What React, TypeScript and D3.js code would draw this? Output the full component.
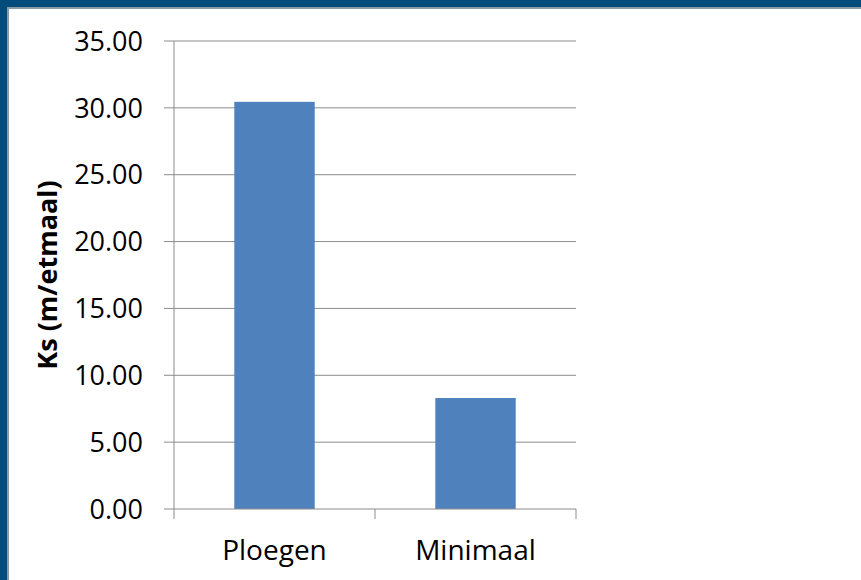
import React from "react";
import * as d3 from "d3";

const categories = ["Ploegen", "Minimaal"];
const values = [30.45, 8.3];
const yTicks = [0, 5, 10, 15, 20, 25, 30, 35];
const yLabel = "Ks (m/etmaal)";

const W = 861;
const H = 580;
const left = 174;
const right = 576;
const top = 41;
const bottom = 509;
const font = "'Open Sans', 'Noto Sans', sans-serif";

export default function App() {
  const x = d3.scaleBand<string>().domain(categories).range([left, right]).paddingInner(0.6).paddingOuter(0.3);
  const xb = d3.scaleBand<string>().domain(categories).range([left, right]);
  const y = d3.scaleLinear().domain([0, 35]).range([bottom, top]);
  return (
    <svg width={W} height={H} style={{ position: "absolute", left: 0, top: 0, background: "#fff" }}>
      <rect x={0} y={0} width={W} height={H} fill="#fff" />
      {/* frame */}
      <rect x={0} y={0} width={W} height={7} fill="#034b7b" />
      <rect x={0} y={7} width={W} height={2} fill="#8a9aa6" />
      <rect x={0} y={0} width={7} height={H} fill="#034b7b" />
      <rect x={7} y={9} width={2} height={H} fill="#8a9aa6" />
      {/* gridlines */}
      {yTicks.map((t) => (
        <g key={t}>
          {t > 0 && <line x1={left} x2={right} y1={y(t)} y2={y(t)} stroke="#8c8c8c" strokeWidth={1} />}
          <line x1={left - 10} x2={left} y1={y(t)} y2={y(t)} stroke="#8c8c8c" strokeWidth={1} />
          <text x={143} y={y(t)} dy="0.36em" textAnchor="end" fontFamily={font} fontSize={27} fill="#000">
            {t.toFixed(2)}
          </text>
        </g>
      ))}
      {/* bars */}
      {categories.map((c, i) => (
        <rect key={c} x={x(c)} y={y(values[i])} width={x.bandwidth()} height={bottom - y(values[i])} fill="#4f81bd" />
      ))}
      {/* axes */}
      <line x1={left} x2={left} y1={top} y2={bottom} stroke="#8c8c8c" strokeWidth={1} />
      <line x1={left} x2={right} y1={bottom} y2={bottom} stroke="#8c8c8c" strokeWidth={1} />
      {[left, ...categories.map((c) => (xb(c) as number) + xb.bandwidth())].map((px, i) => (
        <line key={i} x1={px} x2={px} y1={bottom} y2={bottom + 10} stroke="#8c8c8c" strokeWidth={1} />
      ))}
      {categories.map((c) => (
        <text key={c} x={(xb(c) as number) + xb.bandwidth() / 2} y={550} dy="0.36em" textAnchor="middle" fontFamily={font} fontSize={28} fill="#000">
          {c}
        </text>
      ))}
      <text transform={`translate(47,275) rotate(-90)`} textAnchor="middle" dy="0.36em" fontFamily={font} fontSize={27} fontWeight="bold" fill="#000">
        {yLabel}
      </text>
    </svg>
  );
}
